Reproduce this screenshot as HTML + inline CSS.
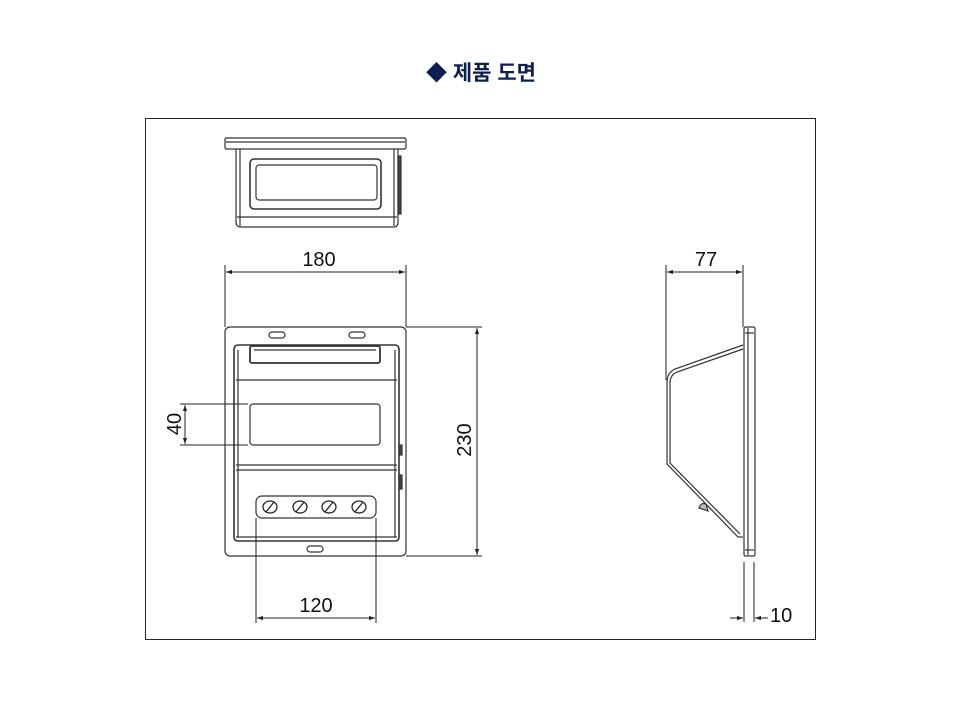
<!DOCTYPE html>
<html><head><meta charset="utf-8"><style>
body{margin:0;background:#fff;}
svg{display:block;}
text{font-family:"Liberation Sans",Arial,sans-serif;fill:#111;}
</style></head><body>
<svg width="960" height="720" viewBox="0 0 960 720" xmlns="http://www.w3.org/2000/svg">
<defs>
<marker id="a" viewBox="0 0 10 10" refX="10" refY="5" markerWidth="8" markerHeight="6" orient="auto-start-reverse" markerUnits="userSpaceOnUse"><path d="M0,1.5 L10,5 L0,8.5 z" fill="#222"/></marker>
</defs>
<text x="481" y="80" text-anchor="middle" font-size="21" font-weight="bold" style="font-family:'Liberation Sans','Noto Sans CJK KR',sans-serif;fill:#0d1f4f">◆ 제품 도면</text>
<rect x="145.5" y="118.5" width="670" height="521" fill="none" stroke="#222" stroke-width="1"/>
<g fill="none" stroke="#333" stroke-width="1.2">
<rect x="225" y="138" width="181" height="11" rx="1.5"/>
<line x1="226" y1="142" x2="405" y2="142"/>
<path d="M236,149 V222 Q236,227 241,227 H394 Q398,227 398,222 V149"/>
<line x1="240" y1="149" x2="240" y2="226"/>
<line x1="394" y1="149" x2="394" y2="226"/>
<line x1="237" y1="217" x2="397" y2="217"/>
<rect x="250" y="159" width="131" height="50" rx="4" stroke-width="1.6"/>
<rect x="256" y="165" width="121" height="35" rx="3"/>
<rect x="398" y="156" width="3" height="58" fill="#444"/>
<rect x="225" y="327" width="181" height="229" rx="5"/>
<rect x="269" y="332" width="16" height="6" rx="3"/>
<rect x="349" y="332" width="16" height="6" rx="3"/>
<rect x="307" y="546" width="16" height="6" rx="3"/>
<path d="M238,345 H395 Q399,345 399,350 V537 Q399,541 395,541 H238 Q234,541 234,537 V350 Q234,345 238,345 Z" stroke-width="1.6"/>
<line x1="238" y1="350" x2="238" y2="537"/>
<line x1="395" y1="350" x2="395" y2="537"/>
<rect x="250" y="346" width="130" height="17" rx="2" stroke-width="1.8"/>
<line x1="254" y1="350" x2="376" y2="350"/>
<line x1="236" y1="380" x2="397" y2="380"/>
<rect x="250" y="404" width="130" height="41" rx="3"/>
<line x1="236" y1="465" x2="397" y2="465"/>
<line x1="236" y1="470" x2="397" y2="470"/>
<line x1="236" y1="537" x2="397" y2="537"/>
<rect x="256" y="496" width="120" height="22" rx="6"/>
<rect x="399" y="445" width="3" height="10" fill="#444"/>
<rect x="399" y="475" width="3" height="14" fill="#444"/>
</g>
<g fill="none" stroke="#222" stroke-width="1.3">
<ellipse cx="270" cy="507" rx="7" ry="6"/><line x1="266" y1="512" x2="274" y2="502"/>
<ellipse cx="300" cy="507" rx="7" ry="6"/><line x1="296" y1="512" x2="304" y2="502"/>
<ellipse cx="329" cy="507" rx="7" ry="6"/><line x1="325" y1="512" x2="333" y2="502"/>
<ellipse cx="359" cy="507" rx="7" ry="6"/><line x1="355" y1="512" x2="363" y2="502"/>
</g>
<g stroke="#222" stroke-width="1" fill="none">
<line x1="225" y1="265" x2="225" y2="327"/>
<line x1="406" y1="265" x2="406" y2="327"/>
<line x1="226" y1="272" x2="405" y2="272" marker-start="url(#a)" marker-end="url(#a)"/>
<line x1="406" y1="327" x2="482" y2="327"/>
<line x1="406" y1="556" x2="482" y2="556"/>
<line x1="477" y1="328" x2="477" y2="555" marker-start="url(#a)" marker-end="url(#a)"/>
<line x1="180" y1="404" x2="248" y2="404"/>
<line x1="180" y1="445" x2="248" y2="445"/>
<line x1="185" y1="405" x2="185" y2="444" marker-start="url(#a)" marker-end="url(#a)"/>
<line x1="256" y1="518" x2="256" y2="623"/>
<line x1="376" y1="518" x2="376" y2="623"/>
<line x1="257" y1="618" x2="375" y2="618" marker-start="url(#a)" marker-end="url(#a)"/>
<line x1="666" y1="265" x2="666" y2="380"/>
<line x1="743" y1="265" x2="743" y2="327"/>
<line x1="667" y1="272" x2="742" y2="272" marker-start="url(#a)" marker-end="url(#a)"/>
<line x1="744" y1="562" x2="744" y2="622"/>
<line x1="754" y1="562" x2="754" y2="622"/>
<line x1="730" y1="618" x2="743" y2="618" marker-end="url(#a)"/>
<line x1="768" y1="618" x2="755" y2="618" marker-end="url(#a)"/>
</g>
<g fill="none" stroke="#333" stroke-width="1.2">
<rect x="744" y="327" width="11" height="229" rx="1.5"/>
<line x1="748" y1="328" x2="748" y2="555"/>
<line x1="745" y1="333" x2="754" y2="333"/>
<line x1="745" y1="550" x2="754" y2="550"/>
<path d="M743,345 L675,369 Q667,373 667,382 V464 L738,537 L743,537"/>
<path d="M743,349 L677,372 Q670,375 670,383 V463 L740,534"/>
<path d="M699,508 Q701,502 706,504 L708,511 Z" fill="#bbb"/>
</g>
<g font-size="20">
<text x="319" y="266" text-anchor="middle">180</text>
<text x="316" y="612" text-anchor="middle">120</text>
<text x="706" y="266" text-anchor="middle">77</text>
<text x="770" y="622">10</text>
<text transform="translate(181,424) rotate(-90)" text-anchor="middle">40</text>
<text transform="translate(471,440) rotate(-90)" text-anchor="middle">230</text>
</g>
</svg>
</body></html>
